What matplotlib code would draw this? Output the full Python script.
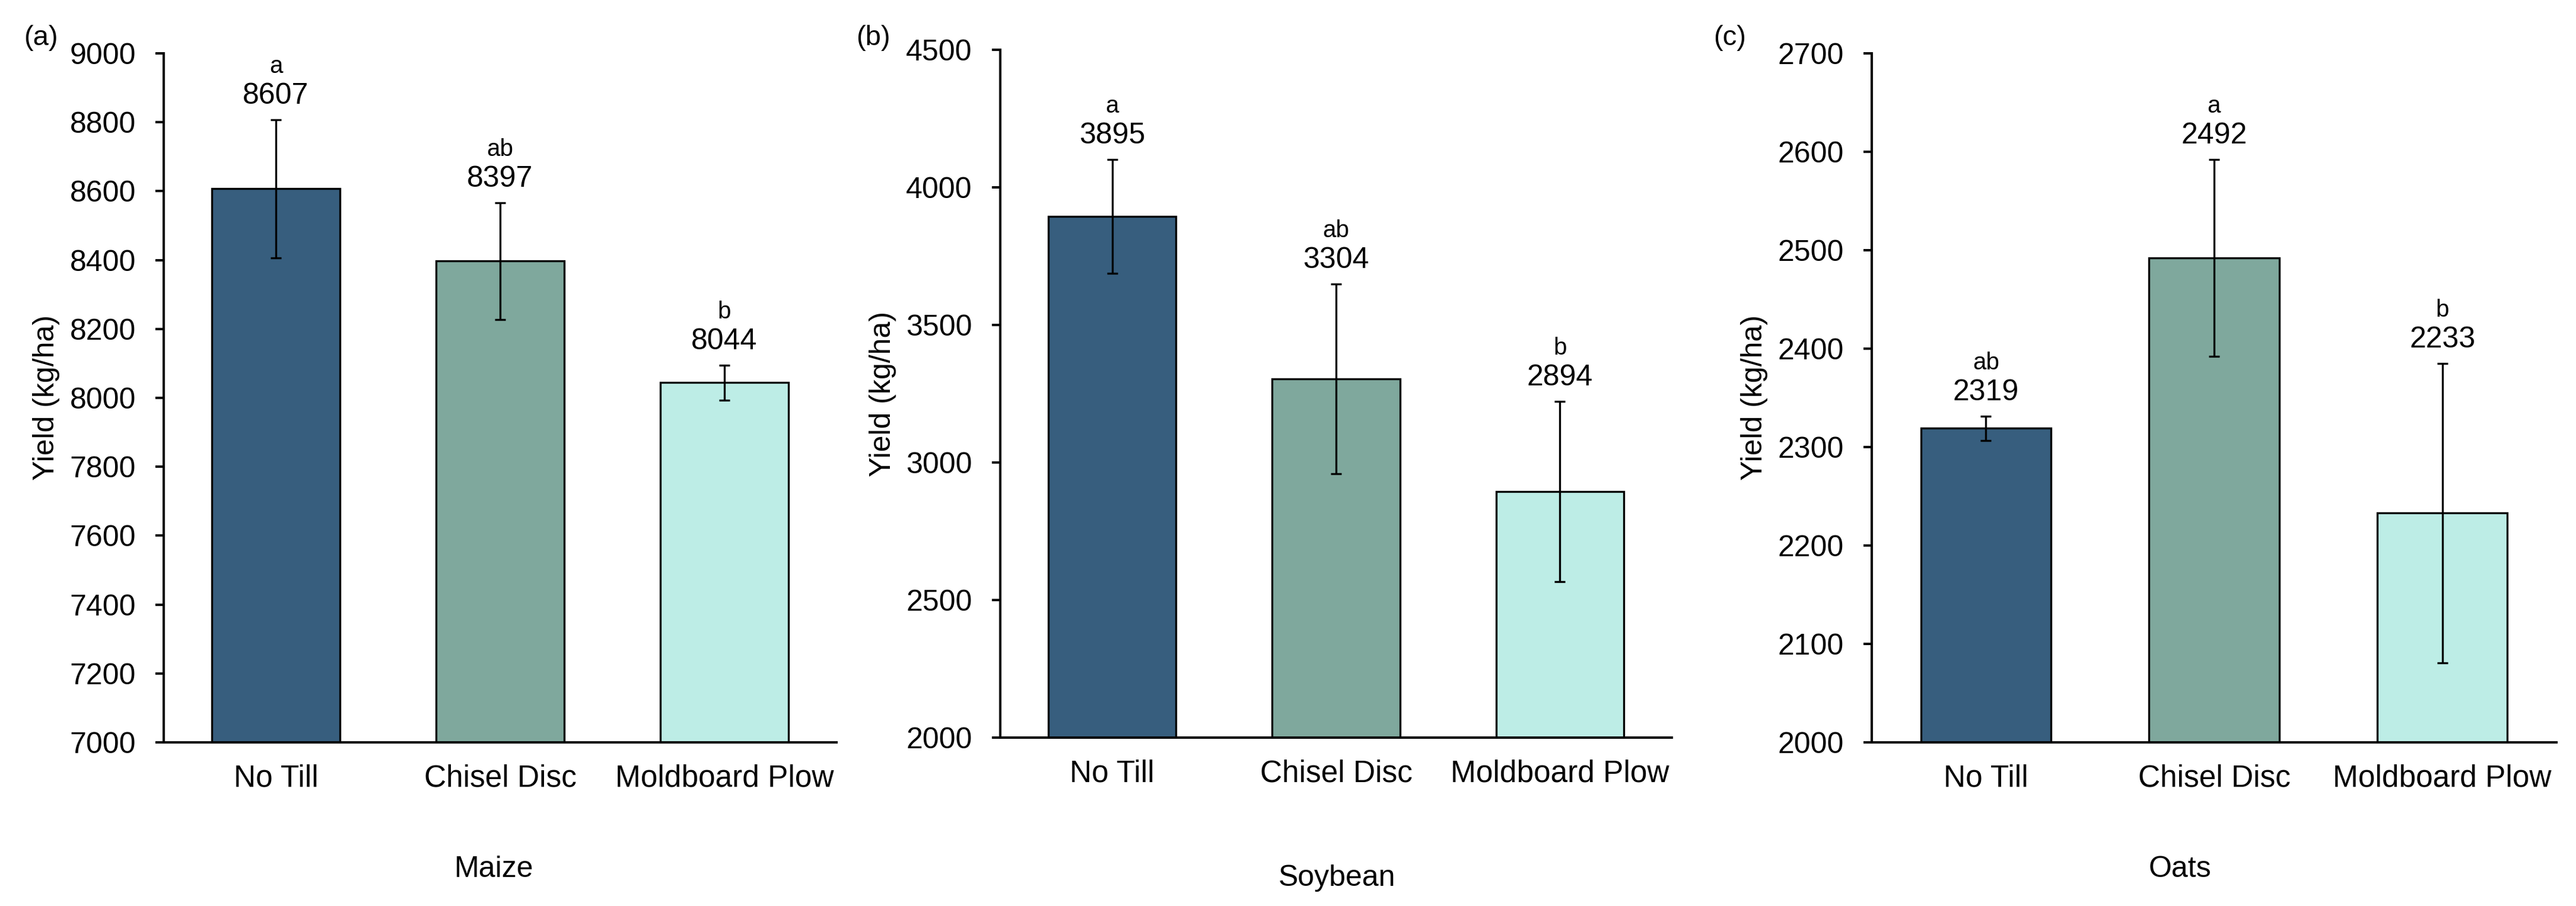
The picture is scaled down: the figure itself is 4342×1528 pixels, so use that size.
import matplotlib
matplotlib.use("Agg")
import matplotlib.pyplot as plt
from matplotlib.ticker import MultipleLocator

plt.rcParams['font.family'] = ['Liberation Sans', 'DejaVu Sans']

# ---- data ----
treatments = ["No Till", "Chisel Disc", "Moldboard Plow"]
colors = ["#375E7E", "#7FA89D", "#BDEDE6"]

maize_yield = [8607, 8397, 8044]
maize_err = [200, 170, 51]
maize_letters = ["a", "ab", "b"]

soy_yield = [3895, 3304, 2894]
soy_err = [207, 344, 328]
soy_letters = ["a", "ab", "b"]

oats_yield = [2319, 2492, 2233]
oats_err = [12.5, 100, 152]
oats_letters = ["ab", "a", "b"]

crops = ["Maize", "Soybean", "Oats"]
panel_tags = ["(a)", "(b)", "(c)"]

W, H, DPI = 4342, 1528, 200
fig = plt.figure(figsize=(W / DPI, H / DPI), dpi=DPI)

# axes boxes in pixels: left, top, right, bottom
boxes = [(276, 90, 1410, 1252), (1686, 84, 2818, 1244), (3155, 90, 4309, 1252)]
ylims = [(7000, 9000, 200), (2000, 4500, 500), (2000, 2700, 100)]
xlabel_pos = [(0.491, -0.184), (0.501, -0.204), (0.45, -0.184)]
tag_pos = [(40, 64), (1443, 64), (2888, 64)]

datasets = [
    (maize_yield, maize_err, maize_letters),
    (soy_yield, soy_err, soy_letters),
    (oats_yield, oats_err, oats_letters),
]

for i, (vals, errs, letters) in enumerate(datasets):
    l, t, r, b = boxes[i]
    ax = fig.add_axes([l / W, 1 - b / H, (r - l) / W, (b - t) / H])
    x = list(range(len(treatments)))
    ax.bar(x, vals, width=0.57, color=colors, edgecolor="black", linewidth=1.2,
           yerr=errs, error_kw=dict(ecolor="black", elinewidth=1.2, capsize=3.3, capthick=1.2),
           zorder=2)
    y0, y1, step = ylims[i]
    ax.set_ylim(y0, y1)
    ax.yaxis.set_major_locator(MultipleLocator(step))
    ax.set_xlim(-0.5, 2.5)
    ax.set_xticks(x)
    ax.set_xticklabels(treatments)
    for s in ["top", "right"]:
        ax.spines[s].set_visible(False)
    for s in ["left", "bottom"]:
        ax.spines[s].set_linewidth(1.45)
    ax.tick_params(axis="y", length=5, width=1.45, labelsize=18, pad=12)
    ax.tick_params(axis="x", length=0, labelsize=18.5, pad=13)

    for xi, v, e, letter in zip(x, vals, errs, letters):
        ax.annotate(f"{v}", xy=(xi, v + e), xytext=(0, 9.7), textcoords="offset points",
                    ha="center", va="baseline", fontsize=18)
        ax.annotate(letter, xy=(xi, v + e), xytext=(0, 28.4), textcoords="offset points",
                    ha="center", va="baseline", fontsize=14.5)

    ax.set_ylabel("Yield (kg/ha)", fontsize=18, va="center")
    ax.yaxis.set_label_coords(-198 / (r - l), 0.5)
    ax.set_xlabel(crops[i], fontsize=18, va="center")
    ax.xaxis.set_label_coords(*xlabel_pos[i])

    tx, ty = tag_pos[i]
    fig.text(tx / W, 1 - ty / H, panel_tags[i], fontsize=17, ha="left", va="center")

fig.savefig("out.png", dpi=DPI)
